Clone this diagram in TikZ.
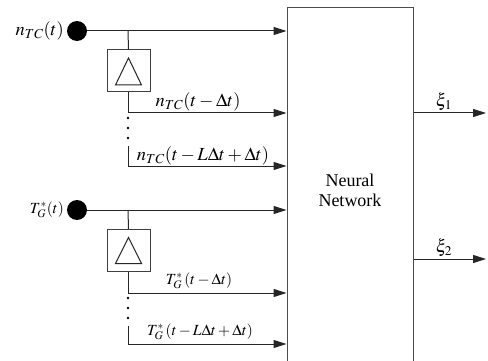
\documentclass[tikz,border=0pt]{standalone}
\usepackage{mathptmx}
\usepackage{fontspec}
\setmainfont{Liberation Serif}
\usetikzlibrary{arrows.meta,calc}
\begin{document}
\begin{tikzpicture}[x=1pt,y=-1pt,
  ln/.style={draw=black!85,line width=1pt},
  arr/.style={ln,-{Triangle[length=13pt,width=8pt]}},
  dot/.style={circle,fill=black,inner sep=0pt,minimum size=20pt},
  delaybox/.style={draw=black!75,line width=1pt,minimum width=43pt,minimum height=42pt,inner sep=0pt},
  lbl/.style={inner sep=1pt,font=\fontsize{18.5}{22}\selectfont},
  lblt/.style={inner sep=1pt,font=\fontsize{15.5}{19}\selectfont},
  lblx/.style={inner sep=1pt,font=\fontsize{18}{21}\selectfont},
  sdot/.style={circle,fill=black,inner sep=0pt,minimum size=2.8pt}]
\useasboundingbox (0,0) rectangle (488,361);
\clip (0,0) rectangle (488,361);
\fill[white] (0,0) rectangle (488,361);
% neural network box
\node[draw=black!70,line width=1pt,minimum width=126pt,minimum height=364pt,inner sep=0pt,
  align=center,font=\fontsize{18}{20}\selectfont] (nn) at (350,190) {Neural\\Network};
% group 1
\node[dot] (c1) at (77,31) {};
\node[lbl,anchor=east] (l1) at (65,31) {$n_{TC}(t)$};
\coordinate (b1) at (128,31);
\node[delaybox] (d1) at (128.5,71) {};
\draw[ln] ($(d1.center)+(0,-13)$) coordinate (t1a) -- ($(d1.center)+(-13,14)$) coordinate (t1b) -- ($(d1.center)+(13,14)$) coordinate (t1c) -- cycle;
\draw[arr] (c1) -- (c1 -| nn.west);
\draw[ln] (b1) -- (d1.north);
\coordinate (r1) at (nn.west |- 0,113);
\draw[arr] (d1.south) |- (r1);
\node[sdot] (s1a) at (128,118) {};
\node[sdot] (s1b) at (128,128) {};
\node[sdot] (s1c) at (128,138) {};
\coordinate (e1) at (128,146);
\coordinate (r2) at (nn.west |- 0,166);
\draw[arr] (e1) |- (r2);
\node[lbl,anchor=south] (l2) at (198,112) {$n_{TC}(t-\Delta t)$};
\node[lbl,anchor=south] (l3) at (203,166) {$n_{TC}(t-L\Delta t+\Delta t)$};
% group 2
\node[dot] (c2) at (77,210) {};
\node[lblt,anchor=east] (l4) at (65,210) {$T_G^{*}(t)$};
\coordinate (b2) at (128,210);
\node[delaybox] (d2) at (128.5,250.5) {};
\draw[ln] ($(d2.center)+(0,-13)$) coordinate (t2a) -- ($(d2.center)+(-13,13)$) coordinate (t2b) -- ($(d2.center)+(13,13)$) coordinate (t2c) -- cycle;
\draw[arr] (c2) -- (c2 -| nn.west);
\draw[ln] (b2) -- (d2.north);
\coordinate (r3) at (nn.west |- 0,293);
\draw[arr] (d2.south) |- (r3);
\node[sdot] (s2a) at (128,298) {};
\node[sdot] (s2b) at (128,308) {};
\node[sdot] (s2c) at (128,318) {};
\coordinate (e2) at (128,326);
\coordinate (r4) at (nn.west |- 0,344);
\draw[arr] (e2) |- (r4);
\node[lblt,anchor=south] (l5) at (199,290) {$T_G^{*}\left(t-\Delta t\right)$};
\node[lblt,anchor=south] (l6) at (200,341) {$T_G^{*}\left(t-L\Delta t+\Delta t\right)$};
% outputs
\coordinate (o1) at (486,113);
\coordinate (o2) at (486,259);
\draw[arr] (nn.east |- o1) -- (o1);
\draw[arr] (nn.east |- o2) -- (o2);
\node[lblx,anchor=south] (x1) at (444,112) {$\xi_1$};
\node[lblx,anchor=south] (x2) at (444,258) {$\xi_2$};
\end{tikzpicture}
\end{document}
